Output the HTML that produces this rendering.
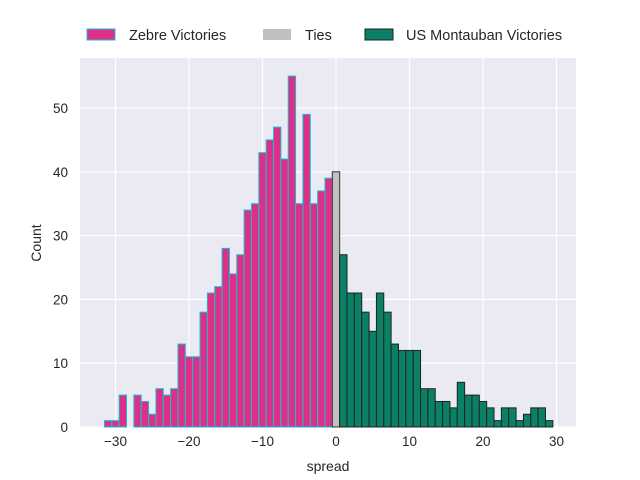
<!DOCTYPE html>
<html><head><meta charset="utf-8"><style>body{margin:0;background:#fff}svg{display:block;font-family:"Liberation Sans",sans-serif}</style></head>
<body>
<svg id="chart" width="640" height="480">
<rect x="80" y="58" width="496" height="369" fill="#eaeaf2"/>
<g id="grid"></g><g id="bars"></g><g id="ticks"></g>
<text x="328" y="471" font-size="14" text-anchor="middle" fill="#262626">spread</text>
<text x="41" y="243" font-size="14" text-anchor="middle" fill="#262626" transform="rotate(-90 41 243)">Count</text>
<g>
<g><rect x="87" y="29" width="28" height="11" fill="#dc3088" stroke="#17becf"/><text x="129" y="40" font-size="14.5" fill="#262626">Zebre Victories</text></g>
<g><rect x="263" y="29" width="28" height="11" fill="#c0c0c0"/><text x="305" y="40" font-size="14.5" fill="#262626">Ties</text></g>
<g><rect x="365" y="29" width="28" height="11" fill="#0a8166" stroke="#222"/><text x="406" y="40" font-size="14.5" fill="#262626">US Montauban Victories</text></g>
</g>
</svg>
<script>
const zebreBins=[-31,-30,-29,-28,-27,-26,-25,-24,-23,-22,-21,-20,-19,-18,-17,-16,-15,-14,-13,-12,-11,-10,-9,-8,-7,-6,-5,-4,-3,-2,-1];
const zebreCounts=[1,1,5,0,5,4,2,6,5,6,13,11,11,18,21,22,28,24,27,34,35,43,45,47,42,55,35,49,35,37,39];
const tieBins=[0];
const tieCounts=[40];
const usBins=[1,2,3,4,5,6,7,8,9,10,11,12,13,14,15,16,17,18,19,20,21,22,23,24,25,26,27,28,29];
const usCounts=[27,21,21,18,15,21,18,13,12,12,12,6,6,4,4,3,7,5,5,4,3,1,3,3,1,2,3,3,1];
const xTicks=[-30,-20,-10,0,10,20,30];
const yTicks=[0,10,20,30,40,50];
const NS="http://www.w3.org/2000/svg";
const xs=v=>336+v*7.35, ys=v=>427-v*6.38;
const grid=document.getElementById('grid'),bars=document.getElementById('bars'),ticks=document.getElementById('ticks');
function mk(tag,a,p){const e=document.createElementNS(NS,tag);for(const k in a)e.setAttribute(k,a[k]);p.appendChild(e);return e;}
xTicks.forEach(t=>{
 const l=mk('line',{x1:xs(t),x2:xs(t),y1:58,y2:427,stroke:'#fff','stroke-width':1.2},grid);
 
 
 const tx=mk('text',{x:xs(t),y:446,'font-size':13.5,'text-anchor':'middle',fill:'#262626'},ticks);
 tx.textContent=t<0?'\u2212'+(-t):t;
 
 
});
yTicks.forEach(t=>{
 const l=mk('line',{x1:80,x2:576,y1:ys(t),y2:ys(t),stroke:'#fff','stroke-width':1.2},grid);
 
 
 const tx=mk('text',{x:68,y:ys(t)+5,'font-size':13.5,'text-anchor':'end',fill:'#262626'},ticks);
 tx.textContent=t;
 
 
});
function draw(bins,counts,fill,stroke,name){
 bins.forEach((b,i)=>{if(!counts[i])return;
  const r=mk('rect',{x:xs(b-0.5),y:ys(counts[i]),width:7.35,height:counts[i]*6.38,fill:fill,stroke:stroke,'stroke-width':1},bars);
  
  
 });
}
draw(zebreBins,zebreCounts,'#dc3088','#17becf','zebre-bar');
draw(tieBins,tieCounts,'#c0c0c0','#333','tie-bar');
draw(usBins,usCounts,'#0a8166','#222','us-montauban-bar');
</script>
</body></html>
